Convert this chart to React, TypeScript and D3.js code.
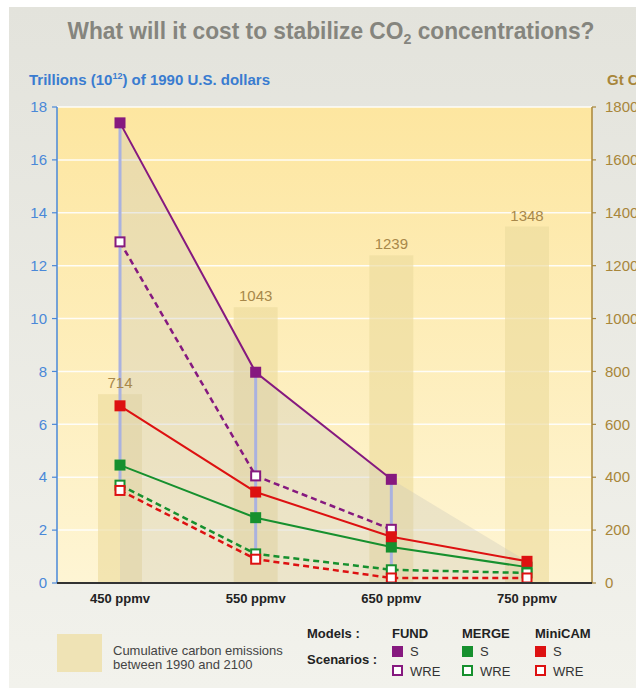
import React from "react";
import * as d3 from "d3";

const categories = ["450 ppmv", "550 ppmv", "650 ppmv", "750 ppmv"];
const emissions = [714, 1043, 1239, 1348];
const fundS: (number | null)[] = [17.4, 7.97, 3.92, null];
const fundWRE: (number | null)[] = [12.9, 4.05, 2.03, null];
const mergeS: (number | null)[] = [4.46, 2.47, 1.36, 0.6];
const mergeWRE: (number | null)[] = [3.7, 1.1, 0.5, 0.38];
const minicamS: (number | null)[] = [6.7, 3.44, 1.75, 0.82];
const minicamWRE: (number | null)[] = [3.5, 0.9, 0.19, 0.19];
const leftTicks = [0, 2, 4, 6, 8, 10, 12, 14, 16, 18];
const rightTicks = [0, 200, 400, 600, 800, 1000, 1200, 1400, 1600, 1800];
const models = ["FUND", "MERGE", "MiniCAM"];
const modelColors = ["#86197f", "#16902e", "#dd1111"];

const series = [
  { model: 0, scen: "S", values: fundS },
  { model: 0, scen: "WRE", values: fundWRE },
  { model: 1, scen: "S", values: mergeS },
  { model: 1, scen: "WRE", values: mergeWRE },
  { model: 2, scen: "S", values: minicamS },
  { model: 2, scen: "WRE", values: minicamWRE },
];

const W = 636, H = 688;
const L = 57, R = 592, T = 107, B = 583;

export default function App() {
  const x = d3.scalePoint<string>().domain(categories).range([120, 527]);
  const y = d3.scaleLinear().domain([0, 18]).range([B, T]);
  const y2 = d3.scaleLinear().domain([0, 1800]).range([B, T]);
  const barW = 44;

  const maxes = categories.map((_, i) =>
    d3.max(series, (s) => (s.values[i] == null ? undefined : (s.values[i] as number))) as number
  );
  const mins = categories.map((_, i) =>
    d3.min(series, (s) => (s.values[i] == null ? undefined : (s.values[i] as number))) as number
  );

  const area = d3
    .area<number>()
    .x((_, i) => x(categories[i]) as number)
    .y0(y(0))
    .y1((d) => y(d));

  const line = d3
    .line<number | null>()
    .defined((d) => d != null)
    .x((_, i) => x(categories[i]) as number)
    .y((d) => y(d as number));

  const sq = 11;

  return (
    <div style={{ position: "absolute", left: 0, top: 0 }}>
      <svg width={W} height={H} style={{ display: "block", fontFamily: "'Liberation Sans', Arial, sans-serif" }}>
        <defs>
          <linearGradient id="panel" x1="0" y1="0" x2="0" y2="1">
            <stop offset="0" stopColor="#e3e3dc" />
            <stop offset="1" stopColor="#f2f2ec" />
          </linearGradient>
          <linearGradient id="plot" x1="0" y1="0" x2="0" y2="1">
            <stop offset="0" stopColor="#fde6a0" />
            <stop offset="1" stopColor="#fef5d4" />
          </linearGradient>
        </defs>
        <rect x={0} y={0} width={W} height={H} fill="#ffffff" />
        <rect x={9} y={7} width={W - 9} height={H - 7} fill="url(#panel)" />
        <text x={331} y={39} textAnchor="middle" fontSize={24} fontWeight="bold" fill="#85857e"
          textLength={527} lengthAdjust="spacingAndGlyphs">
          What will it cost to stabilize CO<tspan fontSize={15} dy={5}>2</tspan>
          <tspan dy={-5}> concentrations?</tspan>
        </text>
        <text x={29} y={85} fontSize={15} fontWeight="bold" fill="#3a7cd0" textLength={241} lengthAdjust="spacingAndGlyphs">
          Trillions (10<tspan fontSize={9} dy={-6}>12</tspan><tspan dy={6}>) of 1990 U.S. dollars</tspan>
        </text>
        <text x={607} y={85} fontSize={15} fontWeight="bold" fill="#a8863a">Gt C</text>

        <rect x={L} y={T} width={R - L} height={B - T} fill="url(#plot)" />
        {leftTicks.filter((t) => t > 0).map((t) => (
          <line key={t} x1={L} x2={R} y1={y(t)} y2={y(t)} stroke="#ffffff" strokeWidth={1.5} opacity={0.9} />
        ))}
        {emissions.map((e, i) => (
          <rect key={i} x={(x(categories[i]) as number) - barW / 2} y={y2(e)} width={barW} height={y2(0) - y2(e)}
            fill="#eddc9e" opacity={0.65} />
        ))}
        <path d={area(maxes) || ""} fill="#c9c6b8" opacity={0.33} />
        {categories.map((c, i) => (
          <line key={c} x1={x(c) as number} x2={x(c) as number} y1={y(mins[i])} y2={y(maxes[i])} stroke="#aab2df" strokeWidth={3} />
        ))}
        {emissions.map((e, i) => (
          <text key={i} x={x(categories[i]) as number} y={y2(e) - 6} textAnchor="middle" fontSize={15} fill="#a8884a">{e}</text>
        ))}
        {series.map((s, k) => (
          <path key={k} d={line(s.values) || ""} fill="none" stroke={modelColors[s.model]}
            strokeWidth={s.scen === "S" ? 2 : 2.5} strokeDasharray={s.scen === "S" ? undefined : "6,4"} />
        ))}
        {series.map((s, k) =>
          s.values.map((v, i) =>
            v == null ? null : s.scen === "S" ? (
              <rect key={`${k}-${i}`} x={(x(categories[i]) as number) - sq / 2} y={y(v) - sq / 2} width={sq} height={sq}
                fill={modelColors[s.model]} />
            ) : (
              <rect key={`${k}-${i}`} x={(x(categories[i]) as number) - (sq - 2) / 2} y={y(v) - (sq - 2) / 2} width={sq - 2} height={sq - 2}
                fill="#ffffff" stroke={modelColors[s.model]} strokeWidth={2} />
            )
          )
        )}

        {/* left axis */}
        <line x1={L} x2={L} y1={T} y2={B} stroke="#4a88d8" strokeWidth={1.5} />
        {leftTicks.map((t) => (
          <g key={t}>
            <line x1={L - 5} x2={L} y1={y(t)} y2={y(t)} stroke="#4a88d8" strokeWidth={1.2} />
            <text x={47} y={y(t)} dy="0.35em" textAnchor="end" fontSize={15} fill="#4a88d8">{t}</text>
          </g>
        ))}
        {/* right axis */}
        <line x1={R} x2={R} y1={T} y2={B} stroke="#a8863a" strokeWidth={1.5} />
        {rightTicks.map((t) => (
          <g key={t}>
            <line x1={R} x2={R + 4} y1={y2(t)} y2={y2(t)} stroke="#a8863a" strokeWidth={1.2} />
            <text x={605} y={y2(t)} dy="0.35em" fontSize={15} fill="#a8863a">{t}</text>
          </g>
        ))}
        {/* bottom axis */}
        <line x1={L} x2={R} y1={B} y2={B} stroke="#333333" strokeWidth={2} />
        {categories.map((c) => (
          <text key={c} x={x(c) as number} y={603} textAnchor="middle" fontSize={13} fontWeight="bold" fill="#222">{c}</text>
        ))}

        {/* legend */}
        <rect x={57} y={634} width={45} height={38} fill="#efe3b5" />
        <text x={113} y={655} fontSize={13} fill="#444">Cumulative carbon emissions</text>
        <text x={113} y={669} fontSize={13} fill="#444">between 1990 and 2100</text>
        <text x={307} y={638} fontSize={13} fontWeight="bold" fill="#222">Models :</text>
        <text x={307} y={664} fontSize={13} fontWeight="bold" fill="#222">Scenarios :</text>
        {models.map((m, i) => {
          const lx = [392, 462, 535][i];
          return (
            <g key={m}>
              <text x={lx} y={638} fontSize={13} fontWeight="bold" fill="#222">{m}</text>
              <rect x={lx} y={646} width={11} height={11} fill={modelColors[i]} />
              <text x={lx + 18} y={656} fontSize={13} fill="#333">S</text>
              <rect x={lx + 1} y={666} width={9} height={9} fill="#fff" stroke={modelColors[i]} strokeWidth={2} />
              <text x={lx + 18} y={676} fontSize={13} fill="#333">WRE</text>
            </g>
          );
        })}
      </svg>
    </div>
  );
}
